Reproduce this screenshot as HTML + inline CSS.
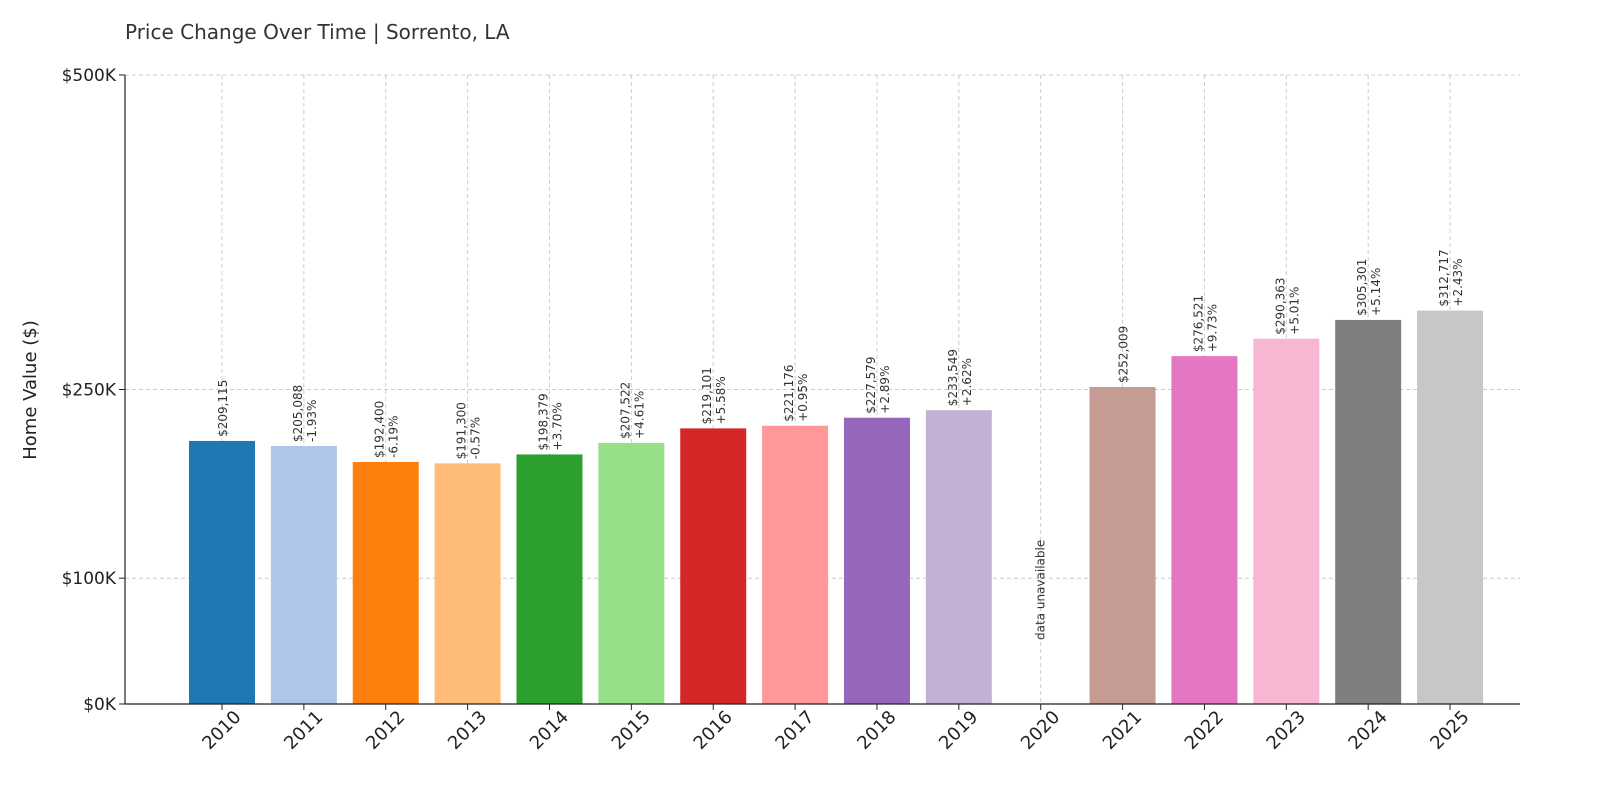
<!DOCTYPE html>
<html><head><meta charset="utf-8"><style>body{margin:0;background:#fff}svg{display:block;font-family:"DejaVu Sans","Liberation Sans",sans-serif}</style></head>
<body>
<svg id="chart" width="1600" height="800" viewBox="0 0 1600 800">
<text x="125" y="39" font-size="20" fill="#333">Price Change Over Time | Sorrento, LA</text>
<text transform="translate(36,390) rotate(-90)" text-anchor="middle" font-size="18" fill="#222">Home Value ($)</text>
<g id="grid"></g><g id="bars"></g><g id="labels"></g><g id="axes"></g>
</svg>
<script>
const years=["2010","2011","2012","2013","2014","2015","2016","2017","2018","2019","2020","2021","2022","2023","2024","2025"];
const values=[209115,205088,192400,191300,198379,207522,219101,221176,227579,233549,null,252009,276521,290363,305301,312717];
const changes=["","-1.93%","-6.19%","-0.57%","+3.70%","+4.61%","+5.58%","+0.95%","+2.89%","+2.62%","","","+9.73%","+5.01%","+5.14%","+2.43%"];
const yTicks=[0,100000,250000,500000];
const yTickLabels=["$0K","$100K","$250K","$500K"];
const colors=["#1f77b4","#aec7e8","#ff7f0e","#ffbb78","#2ca02c","#98df8a","#d62728","#ff9896","#9467bd","#c5b0d5","#8c564b","#c49c94","#e377c2","#f7b6d2","#7f7f7f","#c7c7c7"];
const NS="http://www.w3.org/2000/svg";
const x0=125,x1=1520,yBase=704,yTop=75;
function y(v){return yBase-(v/500000)*(yBase-yTop);}
function cx(i){return 222+i*81.87;}
function mk(tag,attrs,parent){const e=document.createElementNS(NS,tag);for(const k in attrs)e.setAttribute(k,attrs[k]);parent.appendChild(e);return e;}
const grid=document.getElementById('grid'),bars=document.getElementById('bars'),labels=document.getElementById('labels'),axes=document.getElementById('axes');
yTicks.forEach((t,i)=>{
  const l=mk('line',{x1:x0,x2:x1,y1:y(t),y2:y(t),stroke:'#ccc','stroke-dasharray':'4,3','stroke-width':1},grid);
  
  
  const tk=mk('line',{x1:x0-6,x2:x0,y1:y(t),y2:y(t),stroke:'#222'},axes);
  
  
  const tx=mk('text',{x:x0-9,y:y(t)+6,'text-anchor':'end','font-size':17,fill:'#222'},axes);
  tx.textContent=yTickLabels[i];
  
  
});
years.forEach((yr,i)=>{
  const c=cx(i);
  const g=mk('line',{x1:c,x2:c,y1:yTop,y2:yBase,stroke:'#ccc','stroke-dasharray':'4,3'},grid);
  
  
  const v=values[i];
  if(v!==null){
    const r=mk('rect',{x:c-33,y:y(v),width:66,height:yBase-y(v),fill:colors[i]},bars);
    
    
    const vs='$'+v.toLocaleString('en-US');
    const top=y(v)-4;
    if(changes[i]){
      const t1=mk('text',{transform:`translate(${c-2},${top}) rotate(-90)`,'font-size':12,fill:'#333'},labels);t1.textContent=vs;
      
      
      const t2=mk('text',{transform:`translate(${c+12},${top}) rotate(-90)`,'font-size':12,fill:'#333'},labels);t2.textContent=changes[i];
      
      
    } else {
      const t1=mk('text',{transform:`translate(${c+5},${top}) rotate(-90)`,'font-size':12,fill:'#333'},labels);t1.textContent=vs;
      
      
    }
  } else {
    const t=mk('text',{transform:`translate(${c+4},640) rotate(-90)`,'font-size':12,fill:'#333'},labels);t.textContent='data unavailable';
    
    
  }
  const tk=mk('line',{x1:c,x2:c,y1:yBase,y2:yBase+6,stroke:'#222'},axes);
  
  
  const xl=mk('text',{transform:`translate(${c+20},${yBase+14}) rotate(-45)`,'text-anchor':'end','font-size':18,fill:'#222'},axes);
  xl.textContent=yr;
  
  
});
const ax=mk('line',{x1:x0,x2:x0,y1:yTop,y2:yBase,stroke:'#222','stroke-width':1.2},axes);


const bx=mk('line',{x1:x0,x2:x1,y1:yBase,y2:yBase,stroke:'#222','stroke-width':1.2},axes);


</script>
</body></html>
